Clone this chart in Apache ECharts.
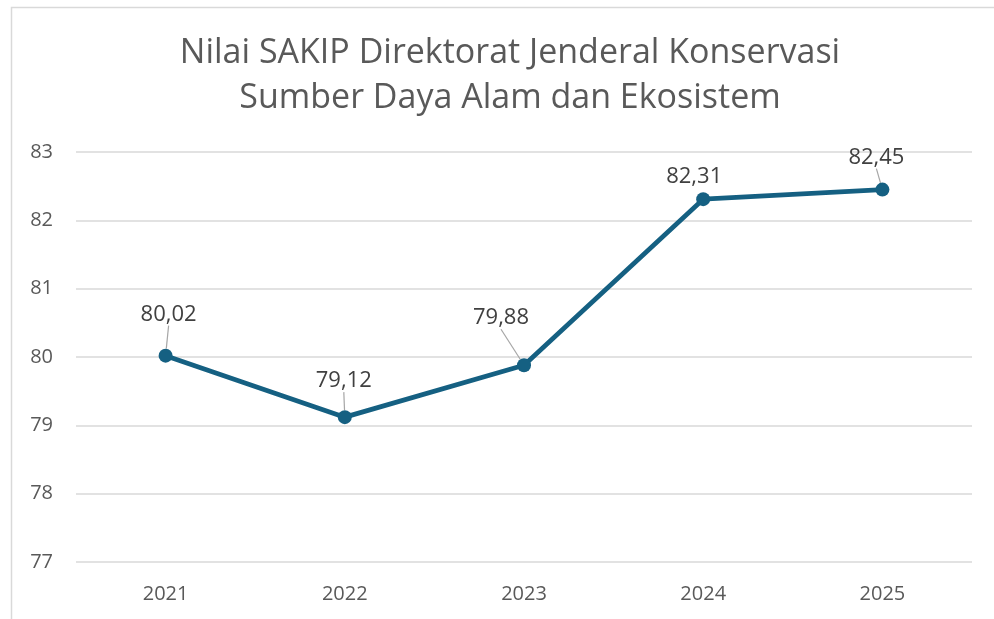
<!DOCTYPE html>
<html>
<head>
<meta charset="utf-8">
<script src="https://cdn.jsdelivr.net/npm/echarts@6/dist/echarts.min.js"></script>
<style>
html,body{margin:0;padding:0;background:#fff;}
#c{width:994px;height:619px;}
</style>
</head>
<body>
<div id="c"></div>
<script>
var titleLines = ['Nilai SAKIP Direktorat Jenderal Konservasi', 'Sumber Daya Alam dan Ekosistem'];
var years = ['2021', '2022', '2023', '2024', '2025'];
var values = [80.02, 79.12, 79.88, 82.31, 82.45];
var yTicks = [77, 78, 79, 80, 81, 82, 83];
// label offsets (px) relative to the point, as placed in the reference
var labelDx = [3, -1, -23, -9, -6];
var labelDy = [-41, -36, -47, -22, -32];
var showLeader = [true, true, true, false, true];

var chart = echarts.init(document.getElementById('c'), null, {renderer: 'canvas'});
var font = '"Open Sans", "Noto Sans", sans-serif';

chart.setOption({
  animation: false,
  backgroundColor: '#fff',
  title: {
    text: titleLines.join('\n'),
    left: 505,
    textAlign: 'center',
    top: 26,
    textStyle: {
      fontFamily: font,
      fontSize: 34,
      fontWeight: 'normal',
      color: '#595959',
      lineHeight: 45
    }
  },
  graphic: [{
    type: 'rect',
    shape: {x: 11.5, y: 7.5, width: 1100, height: 800},
    style: {fill: 'none', stroke: '#d9d9d9', lineWidth: 1.5},
    silent: true,
    z: -1
  }],
  grid: {left: 76, right: 22, top: 152, bottom: 57},
  xAxis: {
    type: 'category',
    data: years,
    boundaryGap: true,
    axisLine: {show: false},
    axisTick: {show: false},
    axisLabel: {
      fontFamily: font,
      fontSize: 20,
      color: '#595959',
      margin: 22
    }
  },
  yAxis: {
    type: 'value',
    min: yTicks[0],
    max: yTicks[yTicks.length - 1],
    interval: 1,
    axisLine: {show: false},
    axisTick: {show: false},
    splitLine: {lineStyle: {color: '#d9d9d9', width: 1.5}},
    axisLabel: {
      fontFamily: font,
      fontSize: 20,
      color: '#595959',
      margin: 23,
      formatter: function (v) { return String(v); }
    }
  },
  series: [{
    type: 'line',
    data: values.map(function (v, i) {
      return {value: v, labelLine: {show: showLeader[i]}};
    }),
    symbol: 'circle',
    symbolSize: 14,
    itemStyle: {color: '#156082'},
    lineStyle: {color: '#156082', width: 4.75},
    label: {
      show: true,
      position: 'inside',
      fontFamily: font,
      fontSize: 22,
      color: '#404040',
      formatter: function (p) { return p.value.toFixed(2).replace('.', ','); }
    },
    labelLine: {
      show: true,
      lineStyle: {color: '#a6a6a6', width: 1.2}
    },
    labelLayout: function (p) {
      return {dx: labelDx[p.dataIndex], dy: labelDy[p.dataIndex]};
    }
  }]
});
</script>
</body>
</html>
